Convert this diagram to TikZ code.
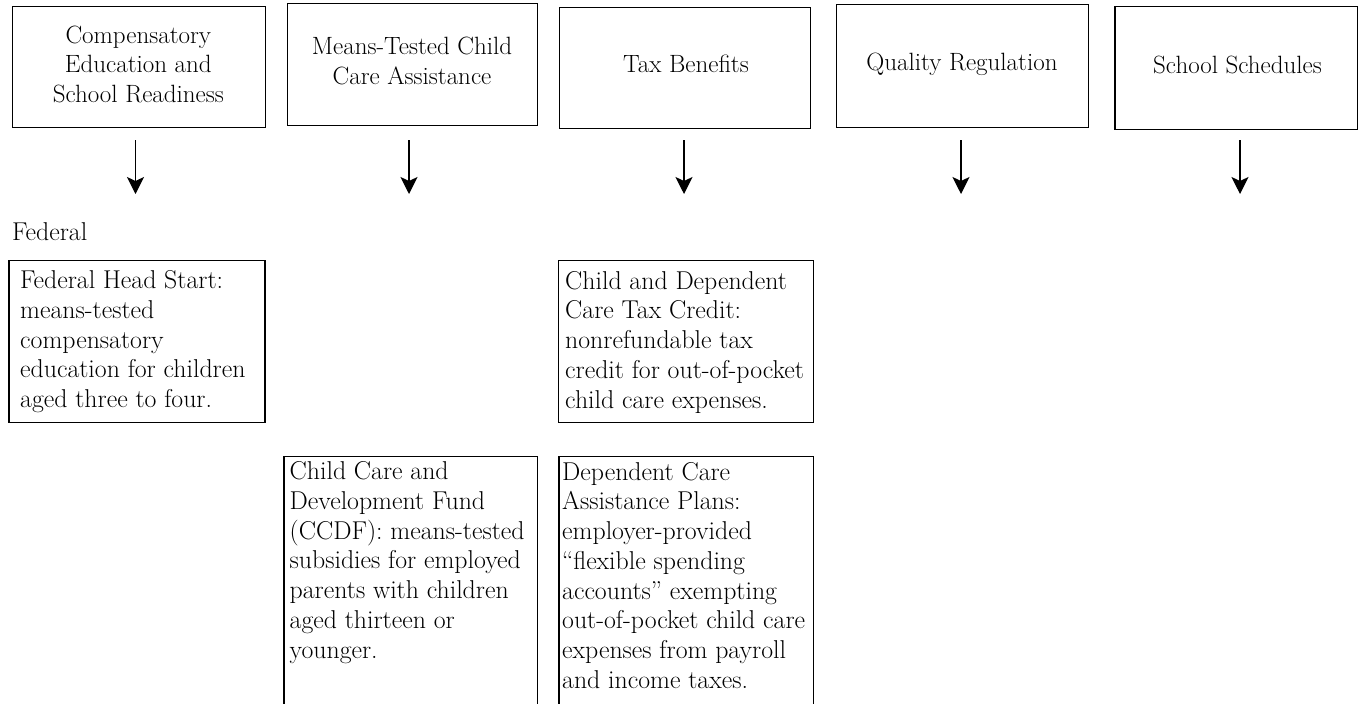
\documentclass[tikz,border=0pt]{standalone}
\usetikzlibrary{arrows.meta}
\begin{document}
\begin{tikzpicture}[x=1pt,y=-1pt,
  box/.style={draw=black, line width=1.4pt, inner sep=0pt, anchor=north west},
  hdr/.style={font=\fontsize{25}{29.5}\selectfont, align=center, inner sep=0pt},
  body/.style={font=\fontsize{25.8}{29.75}\selectfont, align=left, inner sep=0pt, anchor=north west},
  arr/.style={line width=1.3pt, -{Stealth[length=17pt,width=17pt,inset=4pt]}}]
\useasboundingbox (0,0) rectangle (1358,704);
\clip (0,0) rectangle (1358,704);

% header boxes
\node[box, minimum width=253.3pt, minimum height=121pt] (h1) at (11.7,6) {};
\node[box, minimum width=250pt, minimum height=122pt] (h2) at (287,3) {};
\node[box, minimum width=251pt, minimum height=121pt] (h3) at (559,7) {};
\node[box, minimum width=252pt, minimum height=123pt] (h4) at (836,4) {};
\node[box, minimum width=242.7pt, minimum height=123.3pt] (h5) at (1114.3,5.7) {};

% header texts
\node[hdr, anchor=north] (h1t) at (138.3,22.35) {\strut Compensatory\\Education and\\School Readiness};
\node[hdr, anchor=north] (h2t) at (412,33.85) {\strut Means-Tested Child\\Care Assistance};
\node[hdr, anchor=base] (h3t) at (686,72) {Tax Benefits};
\node[hdr, anchor=base] (h4t) at (962,70) {Quality Regulation};
\node[hdr, anchor=base] (h5t) at (1237.5,73) {School Schedules};

% arrows
\coordinate (a1) at (135.5,194);
\coordinate (a2) at (409,194);
\coordinate (a3) at (684,194);
\coordinate (a4) at (961,194);
\coordinate (a5) at (1240,194);
\draw[arr, shorten <=12pt] (h1.south -| a1) -- (a1);
\draw[arr, shorten <=14pt] (h2.south -| a2) -- (a2);
\draw[arr, shorten <=11pt] (h3.south -| a3) -- (a3);
\draw[arr, shorten <=12pt] (h4.south -| a4) -- (a4);
\draw[arr, shorten <=10pt] (h5.south -| a5) -- (a5);

% level label
\node[body, anchor=base west] (fed) at (12,240) {Federal};

% program boxes
\node[box, minimum width=256pt, minimum height=161.7pt] (fhs) at (8.3,260) {};
\node[body] (fhst) at (20,267.7) {\strut Federal Head Start:\\means-tested\\compensatory\\education for children\\aged three to four.};

\node[box, minimum width=255.5pt, minimum height=162pt] (tcc) at (557.5,260) {};
\node[body] (tcct) at (565,268.2) {\strut Child and Dependent\\Care Tax Credit:\\nonrefundable tax\\credit for out-of-pocket\\child care expenses.};

\node[box, minimum width=253.4pt, minimum height=300pt] (ccdf) at (283.3,455.7) {};
\node[body] (ccdft) at (289.5,458.7) {\strut Child Care and\\Development Fund\\(CCDF): means-tested\\subsidies for employed\\parents with children\\aged thirteen or\\younger.};

\node[box, minimum width=254.7pt, minimum height=300pt] (dcap) at (558.3,455.7) {};
\node[body] (dcapt) at (562,459.2) {\strut Dependent Care\\Assistance Plans:\\employer-provided\\“flexible spending\\accounts” exempting\\out-of-pocket child care\\expenses from payroll\\and income taxes.};
\end{tikzpicture}
\end{document}
